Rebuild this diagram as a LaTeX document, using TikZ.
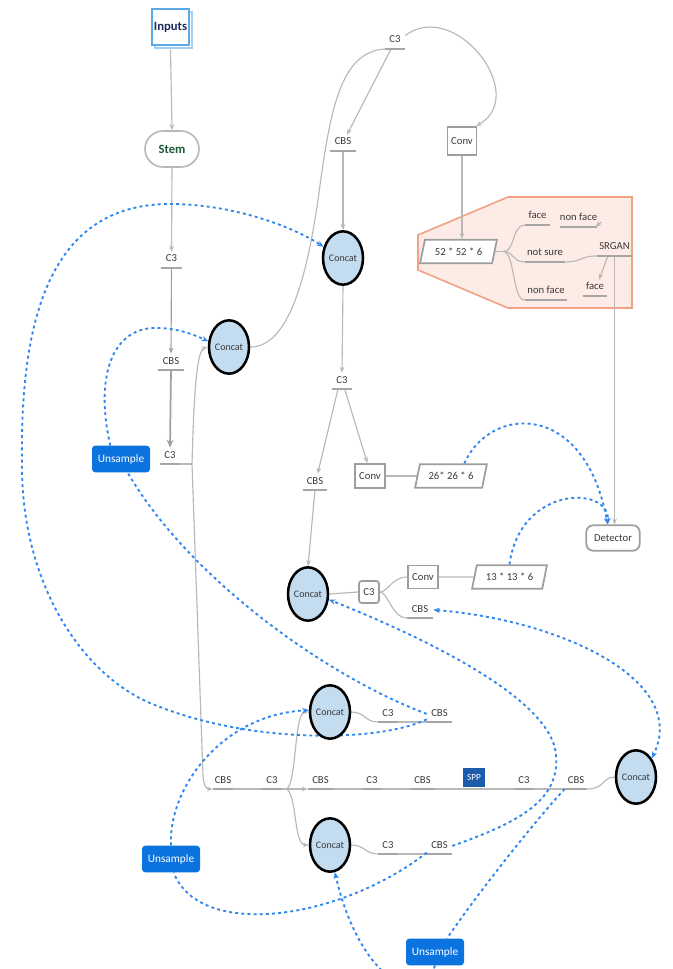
\documentclass[tikz,border=0pt]{standalone}
\usepackage{fontspec}
\setmainfont{Carlito}
\usetikzlibrary{arrows.meta,shapes.geometric,shapes.misc}

\definecolor{lin}{HTML}{B8B8B8}
\definecolor{lindark}{HTML}{A0A0A0}
\definecolor{barc}{HTML}{A6A6A6}
\definecolor{txt}{HTML}{3A3A3A}
\definecolor{cfill}{HTML}{C3DCF0}
\definecolor{dblue}{HTML}{2F86EE}
\definecolor{ubox}{HTML}{0B73E0}
\definecolor{sppc}{HTML}{1D5CAB}
\definecolor{orng}{HTML}{F2A283}
\definecolor{orngfill}{HTML}{FDECE6}
\definecolor{inblue}{HTML}{5AAAE8}
\definecolor{inblue2}{HTML}{A3CFF2}
\definecolor{intext}{HTML}{1B2B5A}
\definecolor{stemtext}{HTML}{1E5A38}
\definecolor{boxline}{HTML}{9E9E9E}

\newcommand\lblfont{\fontsize{8}{9}\selectfont}

\pgfdeclarelayer{bottom}
\pgfdeclarelayer{background}
\pgfsetlayers{bottom,background,main}

\begin{document}
\begin{tikzpicture}[x=0.75pt,y=-0.75pt,
  ul/.style={font=\lblfont, text=txt, inner xsep=0pt, inner ysep=0pt,
    text height=7.5pt, text depth=4.3pt, minimum width=#1*0.75pt, anchor=south},
  barline/.style={draw=barc, line width=1.5pt},
  conn/.style={draw=lin, line width=0.85pt},
  arr/.style={conn, -{Stealth[length=4.5pt,width=3.5pt]}},
  dsh/.style={draw=dblue, line width=1.4pt, dash pattern=on 2.2pt off 2.4pt},
  darr/.style={dsh, -{Stealth[length=5pt,width=4pt]}},
  dboth/.style={dsh, {Stealth[length=5pt,width=4pt]}-{Stealth[length=5pt,width=4pt]}},
  concat/.style={ellipse, draw=black, line width=1.9pt, fill=cfill,
    minimum width=30pt, minimum height=40pt, inner sep=0pt,
    font=\fontsize{7.5}{8}\selectfont, text=txt},
  convbox/.style={rectangle, draw=boxline, line width=1.3pt, fill=white,
    minimum width=22.5pt, minimum height=18pt, inner sep=0pt, font=\lblfont, text=txt},
  para/.style={trapezium, trapezium left angle=66, trapezium right angle=114,
    trapezium stretches=true, draw=boxline, line width=1.3pt, fill=white,
    minimum width=#1*0.75pt, minimum height=17.5pt, inner sep=0pt, font=\lblfont, text=txt},
  unsbox/.style={rectangle, rounded corners=2.5pt, fill=ubox, text=white,
    font=\fontsize{8.5}{10}\selectfont, minimum width=43.5pt, minimum height=20pt, inner sep=0pt},
  inbox/.style={rectangle, line width=1pt, fill=white, minimum width=27.75pt,
    minimum height=27pt, inner sep=0pt},
]
\path[use as bounding box] (0,0) rectangle (673,969);

% page and the detection panel
\begin{pgfonlayer}{bottom}
  \fill[white] (0,0) rectangle (673,969);
  \filldraw[draw=orng, fill=orngfill, line width=1.2pt]
    (418,235) -- (508,197) -- (632,197) -- (632,308) -- (508,308) -- (418,270) -- cycle;
\end{pgfonlayer}

% ---------- nodes ----------
\node[inbox, draw=inblue2] (inputsback) at (173.5,30) {};
\node[inbox, draw=inblue, font=\fontsize{9.5}{11}\selectfont\bfseries, text=intext] (inputs) at (170.5,27) {Inputs};
\node[rounded rectangle, draw=lin, line width=1.2pt, fill=white, minimum width=40.5pt,
  minimum height=27pt, inner sep=0pt, font=\fontsize{9.5}{11}\selectfont\bfseries, text=stemtext] (stem) at (172,149) {Stem};

\node[ul=21] (c3a) at (171.5,268) {C3};
\node[ul=26] (cbsa) at (171,370) {CBS};
\node[ul=20] (c3b) at (170,464) {C3};
\node[ul=20] (c3top) at (395,49) {C3};
\node[ul=25] (cbstop) at (343,151) {CBS};
\node[ul=25] (face1) at (537.5,225) {face};
\node[ul=40] (notsure) at (545,262) {not sure};
\node[ul=42] (nonface1) at (546,300) {non face};
\node[ul=37] (nonface2) at (578.5,227) {non face};
\node[ul=35] (srgan) at (614.5,256) {SRGAN};
\node[ul=24] (face2) at (595,296) {face};
\node[ul=20] (c3mid) at (342,389) {C3};
\node[ul=24] (cbsmid) at (315,490) {CBS};
\node[ul=26] (cbs3) at (420,618) {CBS};
\node[ul=20] (c3r4) at (388,722) {C3};
\node[ul=25] (cbsr4) at (439.5,722) {CBS};
\node[ul=20] (cbsm1) at (223,789) {CBS};
\node[ul=20] (c3m1) at (272,789) {C3};
\node[ul=25] (cbsm2) at (320.5,789) {CBS};
\node[ul=20] (c3m2) at (372,789) {C3};
\node[ul=25] (cbsm3) at (422.5,789) {CBS};
\node[ul=20] (c3m3) at (524,789) {C3};
\node[ul=22] (cbsm4) at (576,789) {CBS};
\node[ul=20] (c3r6) at (388,854) {C3};
\node[ul=25] (cbsr6) at (439.5,854) {CBS};

\foreach \n in {c3a,cbsa,c3b,c3top,cbstop,face1,notsure,nonface1,nonface2,srgan,face2,
  c3mid,cbsmid,cbs3,c3r4,cbsr4,cbsm1,c3m1,cbsm2,c3m2,cbsm3,c3m3,cbsm4,c3r6,cbsr6}
  \draw[barline] (\n.south west) -- (\n.south east);

\node[concat] (concat1) at (343,258) {Concat};
\node[concat] (concat2) at (229,347) {Concat};
\node[concat] (concat3) at (308,594) {Concat};
\node[concat] (concat4) at (330,712) {Concat};
\node[concat] (concat5) at (636,777) {Concat};
\node[concat] (concat6) at (330,845) {Concat};

\node[convbox, minimum width=21.75pt, minimum height=21pt] (conv1) at (462,141) {Conv};
\node[convbox] (conv2) at (370,476) {Conv};
\node[convbox, minimum height=17.25pt] (conv3) at (423,577) {Conv};
\node[convbox, rounded corners=2pt, minimum width=15pt, minimum height=16.5pt] (c3box) at (369,592) {C3};

\node[para=77] (para52) at (458.5,251.5) {52 * 52 * 6};
\node[para=72] (para26) at (451,476) {26* 26 * 6};
\node[para=75] (para13) at (509.5,577) {13 * 13 * 6};

\node[rectangle, rounded corners=5pt, draw=boxline, line width=1.3pt, fill=white,
  minimum width=40pt, minimum height=19pt, inner sep=0pt, font=\lblfont, text=txt] (det) at (613,538) {Detector};

\node[rectangle, fill=sppc, text=white, font=\fontsize{7}{8}\selectfont,
  minimum width=16.5pt, minimum height=14pt, inner sep=0pt] (spp) at (474,777.5) {SPP};

\node[unsbox] (unsL) at (121,459) {Unsample};
\node[unsbox] (unsM) at (171,859) {Unsample};
\node[unsbox] (unsB) at (435,952) {Unsample};

% ---------- connectors ----------
\begin{pgfonlayer}{background}
  % backbone on the left
  \draw[arr] ([yshift=-3pt]inputs.south) -- (stem.north);
  \draw[arr] (stem.south) -- (c3a.north);
  \draw[arr, draw=lindark] (c3a.south) -- (cbsa.north);
  \draw[draw=lindark, line width=1.3pt, -{Stealth[length=6pt,width=5pt]}] (cbsa.south) -- (c3b.north);
  \coordinate (jn) at (192,464);
  \draw[conn] (c3b.south east) -- (jn);
  \draw[arr] (jn) .. controls (194,390) and (197,350) .. (concat2.west);
  \draw[arr] (jn) -- (203,776) .. controls (204,786) and (206,789) .. (cbsm1.south west);

  % upper path
  \draw[conn] (concat2.east) .. controls (285,347) and (305,290) .. (318,200)
    .. controls (330,110) and (340,52) .. (c3top.south west);
  \draw[arr] ([xshift=-3pt]c3top.south) -- ([xshift=3pt]cbstop.north);
  \draw[arr] ([yshift=4pt]c3top.east) .. controls (455,-2) and (530,95) .. ([xshift=-1pt]conv1.north east);
  \draw[arr] (cbstop.south) -- (concat1.north);
  \draw[arr] (conv1.south) -- (conv1.south |- para52.north);

  % detection panel
  \draw[conn] (para52.east) -- ++(8,0) coordinate (pb);
  \draw[conn] (pb) .. controls (515,252) and (512,225) .. (face1.south west);
  \draw[conn] (pb) .. controls (515,252) and (512,262) .. (notsure.south west);
  \draw[conn] (pb) .. controls (515,252) and (512,300) .. (nonface1.south west);
  \draw[conn] (notsure.south east) .. controls (582,262) and (580,256) .. (srgan.south west);
  \draw[arr] ([xshift=-5pt]srgan.south) -- ([xshift=3pt]face2.north);
  \draw[arr] ([shift={(4,-5)}]nonface2.south east) -- ([shift={(-2,0)}]nonface2.south east);
  \draw[arr] (srgan.south) -- (srgan.south |- det.north);

  % middle heads
  \draw[arr] (concat1.south) -- (c3mid.north);
  \draw[arr] ([xshift=-3pt]c3mid.south) -- ([xshift=2pt]cbsmid.north);
  \draw[arr] ([xshift=2pt]c3mid.south) -- ([xshift=-2pt]conv2.north);
  \draw[conn] (conv2.east) -- (para26.west);
  \draw[arr] (cbsmid.south) -- (concat3.north);
  \draw[conn] (concat3.east) -- (c3box.west);
  \draw[conn] (c3box.east) .. controls (388,592) and (392,577) .. (conv3.west);
  \draw[conn] (c3box.east) .. controls (388,592) and (392,618) .. (cbs3.south west);
  \draw[conn] (conv3.east) -- (para13.west);

  % lower rows
  \draw[conn] (concat4.east) .. controls (365,712) and (365,722) .. (c3r4.south west);
  \draw[conn] (c3r4.south east) -- (cbsr4.south west);
  \draw[conn] (concat6.east) .. controls (365,845) and (365,854) .. (c3r6.south west);
  \draw[conn] (c3r6.south east) -- (cbsr6.south west);

  % main row
  \draw[conn] (cbsm1.south east) -- (c3m1.south west);
  \coordinate (jm) at (287,789);
  \draw[conn] (c3m1.south east) -- (jm);
  \draw[arr] (jm) -- (cbsm2.south west);
  \draw[arr] (jm) .. controls (297,780) and (294,712) .. (concat4.west);
  \draw[arr] (jm) .. controls (297,798) and (294,845) .. (concat6.west);
  \draw[conn] (cbsm2.south east) -- (c3m2.south west);
  \draw[conn] (c3m2.south east) -- (cbsm3.south west);
  \draw[conn] (cbsm3.south east) -- (c3m3.south west);
  \draw[conn] (c3m3.south east) -- (cbsm4.south west);
  \draw[conn] (cbsm4.south east) .. controls (605,789) and (602,777) .. (concat5.west);

  % dashed feature links
  \draw[darr] ([yshift=2pt]cbsr4.south west) .. controls (380,742) and (250,745) .. (150,703)
    .. controls (80,673) and (20,580) .. (22,460)
    .. controls (20,300) and (60,204) .. (170,204)
    .. controls (230,204) and (290,225) .. (concat1.150);
  \draw[darr] ([xshift=-8pt]unsL.north) .. controls (95,380) and (110,325) .. (160,328)
    .. controls (180,329) and (195,335) .. (concat2.165);
  \draw[dsh] (cbsr4.west) .. controls (330,678) and (190,580) .. ([xshift=5pt]unsL.south);
  \draw[darr] ([xshift=10pt]para26.north) .. controls (490,405) and (585,400) .. ([xshift=-4pt]det.north);
  \draw[darr] (para13.north) .. controls (520,485) and (610,485) .. ([xshift=-4pt]det.north);
  \draw[dboth] (cbs3.east) .. controls (560,620) and (690,680) .. (concat5.50);
  \draw[darr] (cbsr6.east) .. controls (520,822) and (560,800) .. (556,755)
    .. controls (552,700) and (430,640) .. (concat3.-15);
  \draw[darr] (unsM.north) .. controls (168,790) and (220,715) .. (concat4.175);
  \draw[dsh] ([yshift=1pt]cbsr6.south west) .. controls (340,920) and (200,940) .. ([xshift=2pt]unsM.south);
  \draw[darr] (unsB.south) .. controls (420,1010) and (360,980) .. (concat6.-80);
  \draw[dsh] (cbsm4.south west) .. controls (540,815) and (480,890) .. ([xshift=9pt]unsB.north);
\end{pgfonlayer}
\end{tikzpicture}
\end{document}
